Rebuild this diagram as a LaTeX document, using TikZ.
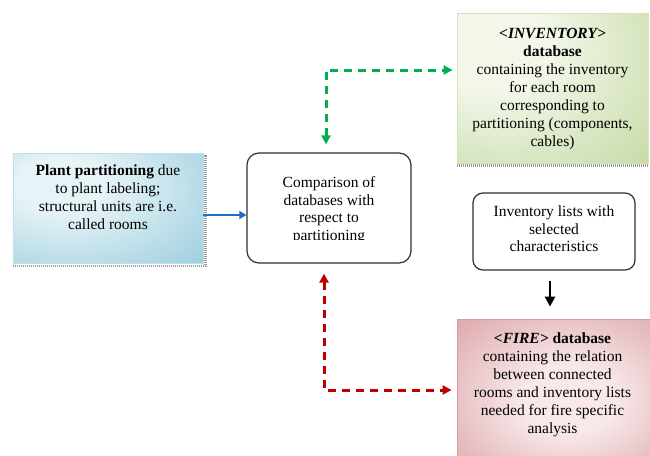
\documentclass[tikz,border=0pt]{standalone}
\usepackage{fontspec}
\setmainfont{Liberation Serif}
\usetikzlibrary{arrows.meta}

\definecolor{plantLight}{HTML}{E6F3F7}
\definecolor{plantDark}{HTML}{8BC5D7}
\definecolor{plantEdge}{HTML}{BFE0EA}
\definecolor{invLight}{HTML}{F3F7EA}
\definecolor{invDark}{HTML}{B7D291}
\definecolor{invEdge}{HTML}{D2E3B8}
\definecolor{fireLight}{HTML}{F8E8E9}
\definecolor{fireDark}{HTML}{CD8388}
\definecolor{fireEdge}{HTML}{D99CA0}
\definecolor{linkBlue}{HTML}{1F6FC0}
\definecolor{linkGreen}{HTML}{00B050}
\definecolor{linkRed}{HTML}{C00000}
\definecolor{frameGray}{HTML}{303030}

% soft radial fills for the three data boxes
\pgfdeclareradialshading{plantshade}{\pgfpoint{-14bp}{12bp}}{color(0bp)=(plantLight); color(12bp)=(plantLight); color(55bp)=(plantDark); color(100bp)=(plantDark)}
\pgfdeclareradialshading{invshade}{\pgfpoint{-18bp}{16bp}}{color(0bp)=(invLight); color(14bp)=(invLight); color(60bp)=(invDark); color(100bp)=(invDark)}
\pgfdeclareradialshading{fireshade}{\pgfpoint{4bp}{-4bp}}{color(0bp)=(fireLight); color(12bp)=(fireLight); color(55bp)=(fireDark); color(100bp)=(fireDark)}

\tikzset{
  txt/.style={align=center, inner sep=0pt, font=\fontsize{15.5}{18}\selectfont},
  txtsmall/.style={align=center, inner sep=0pt, font=\fontsize{15.5}{17.5}\selectfont},
  databox/.style={rectangle, inner sep=0pt, line width=0.8pt},
  procbox/.style={rectangle, rounded corners=12pt, inner sep=0pt, draw=frameGray, line width=1.2pt, fill=white},
  boxshadow/.style={draw=black!40, line width=2.4pt, dash pattern=on 1pt off 1pt},
  dashlink/.style={line width=3pt, dash pattern=on 8pt off 6pt, {Triangle[length=9pt,width=9pt]}-{Triangle[length=9pt,width=9pt]}},
}

\begin{document}
\begin{tikzpicture}[x=1pt, y=-1pt]
\useasboundingbox (0,0) rectangle (650,455);

% boxes
\node[databox, shading=plantshade, draw=plantEdge, minimum width=190pt, minimum height=110pt] (plant) at (108,208) {};
\node[procbox, minimum width=164pt, minimum height=110pt] (compare) at (329,208) {};
\node[databox, shading=invshade, draw=invEdge, minimum width=191pt, minimum height=150pt] (inv) at (552.5,88) {};
\node[procbox, rounded corners=10pt, minimum width=162pt, minimum height=77pt] (lists) at (554,231.5) {};
\node[databox, shading=fireshade, draw=fireEdge, minimum width=196pt, minimum height=142pt] (fire) at (555,390) {};

% dotted drop shadows
\draw[boxshadow] ([yshift=-2.5pt]plant.south west) -- ([xshift=2pt,yshift=-2.5pt]plant.south east)
                 -- ([xshift=2pt,yshift=-2pt]plant.north east);
\draw[boxshadow] ([yshift=-2pt]inv.south west) -- ([yshift=-2pt]inv.south east);

% texts
\node[txt] (planttext) at (108,197.5)
  {\textbf{Plant partitioning} due\\to plant labeling;\\structural units are i.e.\\called rooms};
\begin{scope}
  \clip (250,150) rectangle (409,239);
  \node[txtsmall] (comparetext) at (329,210)
    {Comparison of\\databases with\\respect to\\partitioning};
\end{scope}
\node[txt] (invtext) at (552.5,89)
  {\textbf{\textit{<INVENTORY>}}\\\textbf{database}\\containing the inventory\\for each room\\corresponding to\\partitioning (components,\\cables)};
\node[txtsmall] (liststext) at (554,229)
  {Inventory lists with\\selected\\characteristics};
\node[txt] (firetext) at (552.5,385)
  {\textbf{\textit{<FIRE>}} \textbf{database}\\containing the relation\\between connected\\rooms and inventory lists\\needed for fire specific\\analysis};

% connectors
\draw[linkBlue, line width=2.2pt, -{Triangle[length=7pt,width=8pt]}]
  ([yshift=-7pt]plant.east) -- ([yshift=-7pt]compare.west);
\draw[linkGreen, dashlink, shorten <=8pt, shorten >=4pt]
  ([xshift=-3pt]compare.north) |- ([yshift=18pt]inv.west);
\draw[linkRed, dashlink, shorten <=10pt, shorten >=5pt]
  ([xshift=-5pt]compare.south) |- (fire.west);
\draw[black, line width=2.8pt, shorten <=10pt, shorten >=12pt, -{Triangle[length=10pt,width=10pt]}]
  ([xshift=-4pt]lists.south) -- ([xshift=-4pt]lists.south |- fire.north);
\end{tikzpicture}
\end{document}
